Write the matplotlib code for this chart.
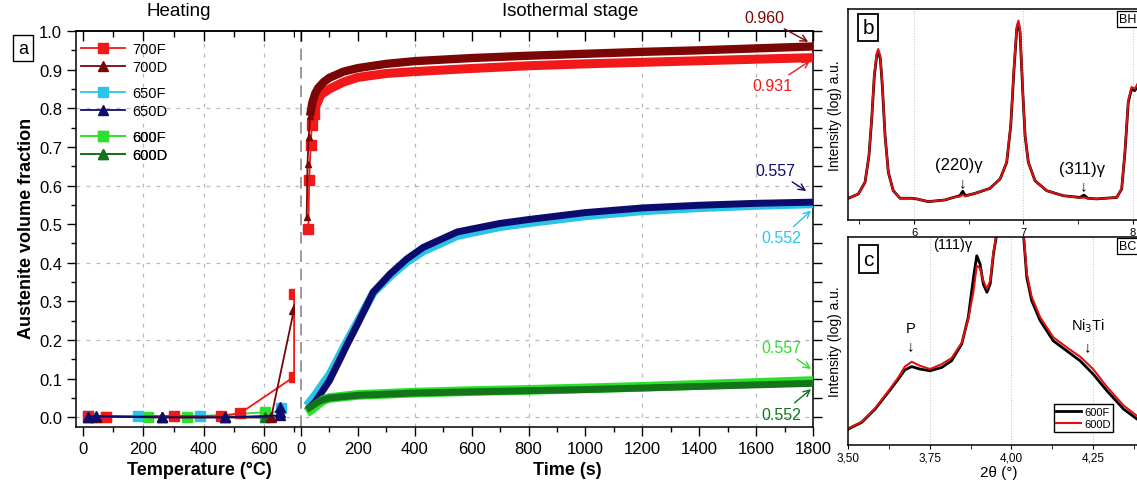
import matplotlib
matplotlib.use('Agg')
import matplotlib.pyplot as plt
from matplotlib.ticker import MultipleLocator, NullFormatter, FixedLocator, FixedFormatter

plt.rcParams['font.family'] = ['Liberation Sans', 'DejaVu Sans']
plt.rcParams['axes.linewidth'] = 1.1

#----------- colours of the six runs --------------
c700F = '#f01818'
c700D = '#7a0606'
c650F = '#2cc3ea'
c650D = '#0c0c6e'
c600F = '#2ee02e'
c600D = '#14741a'

#----------- Heating stage: temperature (C) vs austenite fraction --------------
T_700F = [17, 77, 301, 457, 520, 700, 700]
f_700F = [0.003, 0.002, 0.004, 0.003, 0.010, 0.105, 0.320]
T_700D = [17, 44, 260, 470, 624, 700]
f_700D = [0.002, 0.002, 0.0, 0.0, 0.0, 0.280]
T_650F = [17, 182, 387, 602, 657]
f_650F = [0.004, 0.003, 0.003, 0.0, 0.023]
T_650D = [17, 44, 260, 470, 654, 654, 654]
f_650D = [0.002, 0.003, 0.0, 0.0, 0.005, 0.013, 0.026]
T_600F = [77, 216, 343, 602]
f_600F = [0.002, 0.001, 0.001, 0.013]
T_600D = [17, 44, 260, 470, 602]
f_600D = [0.002, 0.002, 0.0, 0.0, 0.0]

#----------- Isothermal stage: time (s) vs austenite fraction --------------
# first sparse points of the 700 runs
t_700F_start = [26, 29, 34, 38, 46]
f_700F_start = [0.488, 0.615, 0.704, 0.757, 0.786]
t_700D_start = [20, 23, 27, 32]
f_700D_start = [0.518, 0.656, 0.725, 0.780]

t_700F = [46, 55, 70, 100, 150, 200, 300, 400, 600, 800, 1000, 1200, 1400, 1600, 1800]
f_700F_iso = [0.786, 0.810, 0.835, 0.850, 0.868, 0.880, 0.890, 0.895, 0.903, 0.910, 0.915, 0.919, 0.923, 0.927, 0.931]
t_700D = [32, 40, 50, 60, 80, 100, 150, 200, 300, 400, 600, 800, 1000, 1200, 1400, 1600, 1800]
f_700D_iso = [0.780, 0.815, 0.838, 0.852, 0.868, 0.879, 0.895, 0.904, 0.915, 0.922, 0.930, 0.936, 0.941, 0.946, 0.950, 0.955, 0.960]

t_650 = [20, 50, 80, 100, 137, 160, 196, 254, 313, 372, 430, 550, 700, 800, 1000, 1200, 1400, 1600, 1800]
f_650D_iso = [0.017, 0.040, 0.073, 0.095, 0.150, 0.185, 0.237, 0.324, 0.371, 0.410, 0.440, 0.480, 0.502, 0.512, 0.530, 0.542, 0.549, 0.554, 0.557]
f_650F_iso = [0.030, 0.058, 0.090, 0.110, 0.162, 0.195, 0.243, 0.322, 0.365, 0.402, 0.430, 0.470, 0.493, 0.503, 0.521, 0.534, 0.542, 0.548, 0.552]

t_600 = [20, 40, 60, 80, 100, 200, 400, 600, 800, 1000, 1200, 1400, 1600, 1800]
f_600D_iso = [0.020, 0.030, 0.040, 0.046, 0.050, 0.057, 0.063, 0.066, 0.069, 0.072, 0.076, 0.080, 0.084, 0.088]
f_600F_iso = [0.012, 0.022, 0.035, 0.045, 0.050, 0.058, 0.064, 0.068, 0.071, 0.075, 0.079, 0.084, 0.089, 0.094]

#----------- XRD pattern, panel b (BHT) --------------
tt_b = [5.40, 5.49, 5.552, 5.588, 5.613, 5.637, 5.659, 5.673, 5.692, 5.71, 5.735, 5.765, 5.81, 5.872,
        5.979, 6.025, 6.13, 6.284, 6.36, 6.42, 6.445, 6.47, 6.55, 6.604, 6.695, 6.787, 6.848, 6.885,
        6.915, 6.94, 6.955, 6.97, 6.995, 7.016, 7.046, 7.107, 7.214, 7.366, 7.519, 7.555, 7.59, 7.67,
        7.855, 7.90, 7.93, 7.96, 7.99, 8.02, 8.05]
I_b_600F = [0.103, 0.123, 0.179, 0.305, 0.479, 0.684, 0.779, 0.798, 0.763, 0.636, 0.400, 0.226, 0.139, 0.103,
            0.103, 0.100, 0.087, 0.095, 0.107, 0.115, 0.136, 0.115, 0.125, 0.134, 0.150, 0.194, 0.273, 0.447,
            0.716, 0.905, 0.934, 0.889, 0.605, 0.400, 0.273, 0.186, 0.139, 0.115, 0.107, 0.118, 0.103, 0.100,
            0.107, 0.147, 0.321, 0.558, 0.621, 0.613, 0.640]
I_b_600D = [0.103, 0.123, 0.179, 0.308, 0.485, 0.692, 0.790, 0.810, 0.775, 0.642, 0.402, 0.226, 0.139, 0.103,
            0.103, 0.100, 0.087, 0.095, 0.107, 0.112, 0.120, 0.112, 0.125, 0.134, 0.150, 0.194, 0.275, 0.452,
            0.725, 0.915, 0.945, 0.900, 0.612, 0.402, 0.273, 0.186, 0.139, 0.115, 0.105, 0.106, 0.102, 0.100,
            0.107, 0.150, 0.328, 0.565, 0.630, 0.622, 0.650]

#----------- XRD pattern, panel c (BC) --------------
tt_c = [3.501, 3.542, 3.583, 3.623, 3.654, 3.674, 3.695, 3.72, 3.751, 3.787, 3.817, 3.848, 3.868, 3.884,
        3.894, 3.904, 3.914, 3.925, 3.935, 3.945, 3.955, 3.965, 4.028, 4.037, 4.047, 4.062, 4.088, 4.128,
        4.169, 4.21, 4.25, 4.292, 4.343, 4.384, 4.42]
I_c_600F = [0.077, 0.109, 0.173, 0.253, 0.317, 0.361, 0.377, 0.365, 0.357, 0.373, 0.405, 0.486, 0.614, 0.806,
            0.910, 0.870, 0.774, 0.734, 0.774, 0.918, 1.014, 1.10, 1.10, 1.010, 0.806, 0.694, 0.598, 0.501,
            0.453, 0.405, 0.341, 0.261, 0.173, 0.125, 0.09]
I_c_600D = [0.080, 0.112, 0.177, 0.258, 0.325, 0.377, 0.400, 0.381, 0.365, 0.389, 0.418, 0.492, 0.605, 0.740,
            0.862, 0.850, 0.790, 0.750, 0.790, 0.925, 1.020, 1.10, 1.10, 1.020, 0.825, 0.712, 0.614, 0.518,
            0.470, 0.425, 0.365, 0.280, 0.190, 0.140, 0.105]

fig = plt.figure(figsize=(11.37, 4.85), dpi=100)
W, H = 1137.0, 485.0

def box(l, t, r, b):
    return [l / W, 1 - b / H, (r - l) / W, (b - t) / H]

ax_h = fig.add_axes(box(76, 32, 295, 428))
ax_i = fig.add_axes(box(295, 32, 813, 428))
ax_b = fig.add_axes(box(848, 10, 1150, 221))
ax_c = fig.add_axes(box(848, 238, 1150, 446))

grid_kw = dict(color='#b8b8b8', lw=0.9, ls=(0, (3, 5)), zorder=0)

#............ heating panel ...............
for y in [0.0, 0.2, 0.4, 0.6, 0.8]:
    ax_h.axhline(y, **grid_kw)
    ax_i.axhline(y, **grid_kw)
for x in [200, 400, 600]:
    ax_h.axvline(x, **grid_kw)
for x in [400, 800, 1200, 1600]:
    ax_i.axvline(x, **grid_kw)
ax_i.axvline(0, color='#8a8a8a', lw=1.2, ls=(0, (7, 4)), zorder=0)

mk = dict(lw=1.3, ms=6.5, clip_on=False)
ax_h.plot(T_650F, f_650F, 's-', color=c650F, **mk)
ax_h.plot(T_600F, f_600F, 's-', color=c600F, **mk)
ax_h.plot(T_600D, f_600D, '^-', color=c600D, **mk)
ax_h.plot(T_700F, f_700F, 's-', color=c700F, **mk)
ax_h.plot(T_700D, f_700D, '^-', color=c700D, **mk)
ax_h.plot(T_650D, f_650D, '^-', color=c650D, **mk)

ax_h.set_xlim(-24, 703)
ax_h.set_ylim(-0.025, 1.0)
ax_h.xaxis.set_major_locator(MultipleLocator(200))
ax_h.xaxis.set_minor_locator(MultipleLocator(100))
ax_h.yaxis.set_major_locator(FixedLocator([v / 10 for v in range(0, 11)]))
ax_h.yaxis.set_major_formatter(FixedFormatter(['%.1f' % (v / 10) for v in range(0, 11)]))
ax_h.yaxis.set_minor_locator(MultipleLocator(0.05))
ax_h.spines['right'].set_visible(False)
ax_h.tick_params(axis='both', which='both', direction='out', top=False, right=False, labelsize=12)
ax_h.tick_params(which='major', length=6.5, width=1.0)
ax_h.tick_params(which='minor', length=3.5, width=1.0)

sec_h = ax_h.secondary_xaxis('top')
sec_h.xaxis.set_major_locator(MultipleLocator(200))
sec_h.xaxis.set_minor_locator(MultipleLocator(100))
sec_h.xaxis.set_major_formatter(NullFormatter())
sec_h.tick_params(which='both', direction='in', width=1.0)
sec_h.tick_params(which='major', length=7)
sec_h.tick_params(which='minor', length=4)

# legend in three groups
groups = [[('700F', c700F, 's'), ('700D', c700D, '^')],
          [('650F', c650F, 's'), ('650D', c650D, '^')],
          [('600F', c600F, 's'), ('600D', c600D, '^')]]
tops = [0.972, 0.861, 0.750]
for g, top in zip(groups, tops):
    hs = [plt.Line2D([], [], color=c, marker=m, lw=1.3, ms=6.5) for lab, c, m in g]
    leg = ax_h.legend(hs, [lab for lab, c, m in g], loc='upper left', bbox_to_anchor=(0.025, top),
                      frameon=False, fontsize=10.5, handlelength=3.0, handletextpad=0.45,
                      labelspacing=0.28, borderpad=0, borderaxespad=0)
    ax_h.add_artist(leg)

#............ isothermal panel ...............
ax_i.plot(t_650, f_650F_iso, color=c650F, lw=6, solid_capstyle='butt', zorder=3)
ax_i.plot(t_650, f_650D_iso, color=c650D, lw=5, solid_capstyle='butt', zorder=3)
ax_i.plot(t_600, f_600F_iso, color=c600F, lw=7, solid_capstyle='butt', zorder=3)
ax_i.plot(t_600, f_600D_iso, color=c600D, lw=5, solid_capstyle='butt', zorder=3)
ax_i.plot(t_700F, f_700F_iso, color=c700F, lw=6.5, solid_capstyle='butt', zorder=3)
ax_i.plot(t_700F_start, f_700F_start, 's-', color=c700F, lw=1.3, ms=6.5, zorder=3)
ax_i.plot(t_700D, f_700D_iso, color=c700D, lw=6, solid_capstyle='butt', zorder=3)
ax_i.plot(t_700D_start, f_700D_start, '^-', color=c700D, lw=1.3, ms=5, zorder=3)

ax_i.set_xlim(-21, 1800)
ax_i.set_ylim(-0.025, 1.0)
ax_i.xaxis.set_major_locator(MultipleLocator(200))
ax_i.xaxis.set_minor_locator(MultipleLocator(100))
ax_i.yaxis.set_major_locator(MultipleLocator(0.1))
ax_i.yaxis.set_minor_locator(MultipleLocator(0.05))
ax_i.spines['left'].set_visible(False)
ax_i.tick_params(axis='both', which='both', direction='out', top=False, left=False, right=True,
                 labelleft=False, labelright=False, labelsize=12)
ax_i.tick_params(which='major', length=6.5, width=1.0)
ax_i.tick_params(which='minor', length=3.5, width=1.0)
ax_i.tick_params(axis='y', which='minor', length=6.5)

sec_i = ax_i.secondary_xaxis('top')
sec_i.xaxis.set_major_locator(MultipleLocator(200))
sec_i.xaxis.set_minor_locator(MultipleLocator(100))
sec_i.xaxis.set_major_formatter(NullFormatter())
sec_i.tick_params(which='both', direction='in', width=1.0)
sec_i.tick_params(which='major', length=7)
sec_i.tick_params(which='minor', length=4)

notes = [('0.960', c700D, (1783, 0.972), (1628, 1.034)),
         ('0.931', c700F, (1790, 0.923), (1656, 0.858)),
         ('0.557', c650D, (1776, 0.586), (1667, 0.638)),
         ('0.552', c650F, (1793, 0.535), (1688, 0.4645)),
         ('0.557', c600F, (1793, 0.125), (1688, 0.1795)),
         ('0.552', c600D, (1793, 0.073), (1688, 0.0086))]
for txt, col, tip, pos in notes:
    ax_i.annotate(txt, xy=tip, xytext=pos, color=col, fontsize=11.5, ha='center', va='center',
                  annotation_clip=False, zorder=5,
                  arrowprops=dict(arrowstyle='->', color=col, lw=1.0, shrinkA=1, shrinkB=0))

#............ labels for panel a ...............
fig.text(179 / W, 1 - 12 / H, 'Heating', fontsize=13.5, ha='center', va='center')
fig.text(570 / W, 1 - 12 / H, 'Isothermal stage', fontsize=13.3, ha='center', va='center')
fig.text(199 / W, 1 - 471 / H, 'Temperature (°C)', fontsize=13, fontweight='bold', ha='center', va='center')
fig.text(567 / W, 1 - 471 / H, 'Time (s)', fontsize=13, fontweight='bold', ha='center', va='center')
fig.text(27 / W, 1 - 228 / H, 'Austenite volume fraction', fontsize=13, fontweight='bold',
         rotation=90, ha='center', va='center')
fig.text(23 / W, 1 - 49 / H, 'a', fontsize=13, ha='center', va='center',
         bbox=dict(boxstyle='square,pad=0.25', fc='white', ec='black', lw=1.0))

#............ panel b ...............
ax_b.plot(tt_b, I_b_600F, color='black', lw=2.0)
ax_b.plot(tt_b, I_b_600D, color='#e01010', lw=1.5)
for x in [6, 7, 8]:
    ax_b.axvline(x, color='#c8c8c8', lw=0.8, ls=(0, (1, 1.5)), zorder=0)
ax_b.set_xlim(5.396, 8.159)
ax_b.set_ylim(0, 1)
ax_b.xaxis.set_major_locator(MultipleLocator(1))
ax_b.xaxis.set_minor_locator(MultipleLocator(0.5))
ax_b.set_yticks([])
ax_b.tick_params(axis='x', which='both', direction='out', labelsize=8, pad=2)
ax_b.tick_params(axis='x', which='major', length=3)
ax_b.tick_params(axis='x', which='minor', length=3)
ax_b.set_ylabel('Intensity (log) a.u.', fontsize=10, labelpad=4)
ax_b.text(6.41, 0.262, '(220)γ', fontsize=12, ha='center', va='center')
ax_b.text(6.445, 0.18, '↓', fontsize=11, ha='center', va='center')
ax_b.text(7.54, 0.242, '(311)γ', fontsize=12, ha='center', va='center')
ax_b.text(7.555, 0.165, '↓', fontsize=11, ha='center', va='center')
ax_b.text(0.067, 0.913, 'b', transform=ax_b.transAxes, fontsize=15, ha='center', va='center',
          bbox=dict(boxstyle='square,pad=0.2', fc='white', ec='black', lw=1.3))
ax_b.text(0.897, 0.953, 'BH', transform=ax_b.transAxes, fontsize=9, ha='left', va='center',
          bbox=dict(boxstyle='square,pad=0.15', fc='white', ec='black', lw=0.9))

#............ panel c ...............
ax_c.plot(tt_c, I_c_600F, color='black', lw=2.0, label='600F')
ax_c.plot(tt_c, I_c_600D, color='#e01010', lw=1.5, label='600D')
for x in [3.75, 4.0, 4.25]:
    ax_c.axvline(x, color='#c8c8c8', lw=0.8, ls=(0, (1, 1.5)), zorder=0)
ax_c.set_xlim(3.5, 4.424)
ax_c.set_ylim(0, 1)
ax_c.xaxis.set_major_locator(FixedLocator([3.50, 3.75, 4.00, 4.25]))
ax_c.xaxis.set_major_formatter(FixedFormatter(['3,50', '3,75', '4,00', '4,25']))
ax_c.xaxis.set_minor_locator(FixedLocator([3.625, 3.875, 4.125, 4.375]))
ax_c.set_yticks([])
ax_c.tick_params(axis='x', which='both', direction='out', labelsize=8.5, length=3, pad=2)
ax_c.set_ylabel('Intensity (log) a.u.', fontsize=10, labelpad=4)
ax_c.set_xlabel('2θ (°)', fontsize=11, labelpad=1)
ax_c.text(3.821, 0.966, '(111)γ', fontsize=10.5, ha='center', va='center')
ax_c.text(3.692, 0.5625, 'P', fontsize=10.5, ha='center', va='center')
ax_c.text(3.692, 0.48, '↓', fontsize=11, ha='center', va='center')
ax_c.text(4.2355, 0.574, 'Ni$_3$Ti', fontsize=10.5, ha='center', va='center')
ax_c.text(4.2325, 0.476, '↓', fontsize=11, ha='center', va='center')
ax_c.text(0.067, 0.894, 'c', transform=ax_c.transAxes, fontsize=15, ha='center', va='center',
          bbox=dict(boxstyle='square,pad=0.2', fc='white', ec='black', lw=1.3))
ax_c.text(0.897, 0.958, 'BC', transform=ax_c.transAxes, fontsize=9, ha='left', va='center',
          bbox=dict(boxstyle='square,pad=0.15', fc='white', ec='black', lw=0.9))
lc = ax_c.legend(loc='lower right', bbox_to_anchor=(0.897, 0.038), fontsize=8, handlelength=2.2,
                 handletextpad=0.3, borderpad=0.25, labelspacing=0.15, fancybox=False, framealpha=1)
lc.get_frame().set_edgecolor('black')
lc.get_frame().set_linewidth(1.0)

fig.savefig('out.png', dpi=100)
